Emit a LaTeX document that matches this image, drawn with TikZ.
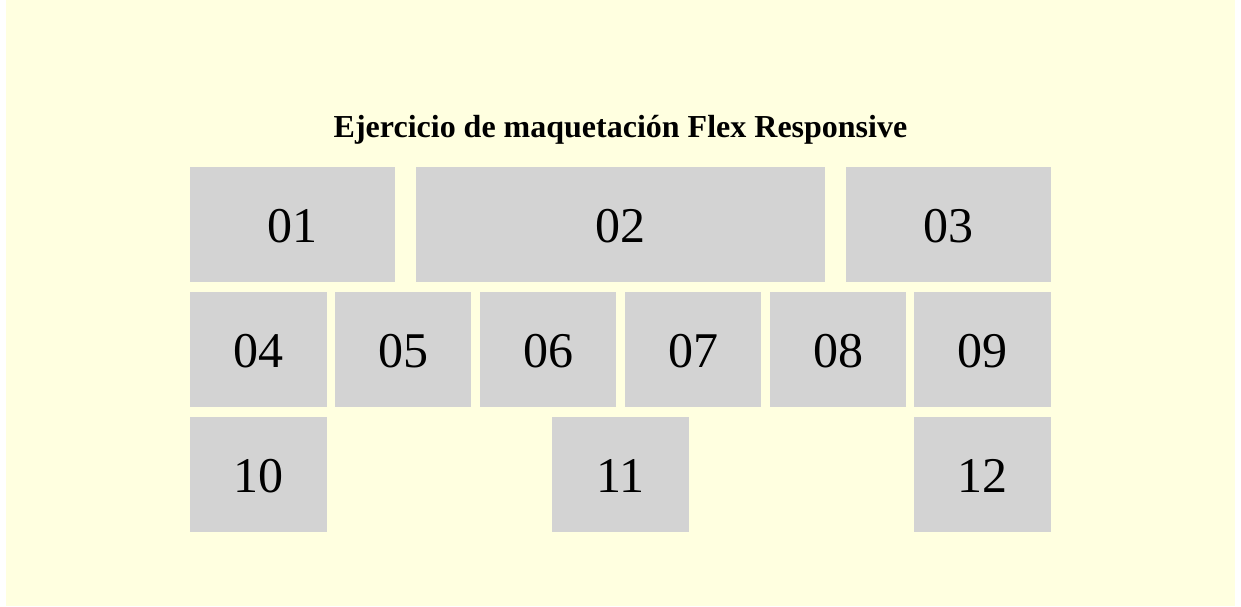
\documentclass[tikz,border=0pt]{standalone}
\usepackage{fontspec}
\setmainfont{Liberation Serif}
\usepackage{tikz}
\definecolor{FlexFondo}{RGB}{255,255,224}
\definecolor{FlexCaja}{RGB}{211,211,211}
\begin{document}
\begin{tikzpicture}[x=1pt,y=-1pt,caja/.style n args={2}{fill=FlexCaja,minimum width=#1pt,minimum height=#2pt,inner sep=0pt,rectangle,text height=35pt,text depth=0pt,font=\fontsize{50}{60}\selectfont}]
\useasboundingbox (0,0) rectangle (1241,606);
\fill[FlexFondo] (6,0) rectangle (1235,606);
\node[anchor=base,font=\bfseries\fontsize{32}{38}\selectfont] (titulo) at (620.5,137) {Ejercicio de maquetación Flex Responsive};
   \node[caja={205}{115}](n01) at(292.5,224.5) {01};
   \node[caja={409}{115}](n02) at(620.5,224.5) {02};
   \node[caja={205}{115}](n03) at(948.5,224.5) {03};
\foreach \x/\1 in %
{258.5/04,403/05,548/06,693/07,838/08,982.5/09} {
   \node[caja={136.5}{115}](n\1) at(\x,349.5) {\1};
}
   \node[caja={137}{115}](n10) at(258.5,474.5) {10};
   \node[caja={137}{115}](n11) at(620.5,474.5) {11};
   \node[caja={137}{115}](n12) at(982.5,474.5) {12};
\end{tikzpicture}
\end{document}
